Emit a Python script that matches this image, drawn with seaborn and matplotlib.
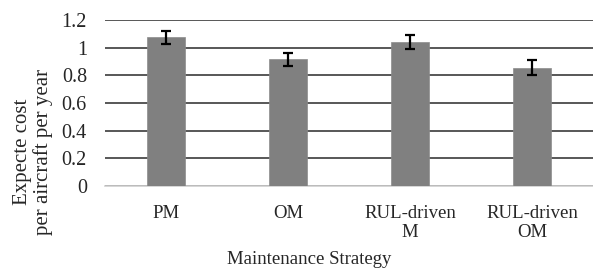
import matplotlib
matplotlib.use("Agg")
import matplotlib.pyplot as plt
import seaborn as sns
import pandas as pd

categories = ["PM", "OM", "RUL-driven\nM", "RUL-driven\nOM"]
values = [1.075, 0.916, 1.040, 0.856]
errors = [0.046, 0.048, 0.052, 0.054]
yticks = [0, 0.2, 0.4, 0.6, 0.8, 1, 1.2]
ytick_labels = ["0", "0.2", "0.4", "0.6", "0.8", "1", "1.2"]

sns.set_style("white")
plt.rcParams['font.family'] = ['Liberation Serif', 'DejaVu Serif']

W, H = 593, 271
fig = plt.figure(figsize=(W / 100, H / 100), dpi=100)
ax = fig.add_axes([105 / W, 1 - 186 / H, 488 / W, 166 / H])

df = pd.DataFrame({"cat": categories, "val": values})
sns.barplot(data=df, x="cat", y="val", color="#808080", saturation=1,
            width=0.31, ax=ax, zorder=3, edgecolor="#8c8c8c", linewidth=0.5)
ax.errorbar(range(len(categories)), values, yerr=errors, fmt="none",
            ecolor="black", elinewidth=1.6, capsize=3.5, capthick=1.6, zorder=4)

ax.set_ylim(0, 1.2)
ax.set_xlim(-0.5, len(categories) - 0.5)
ax.set_yticks(yticks)
ax.set_yticklabels(ytick_labels)
ax.yaxis.grid(True, color="#2a2a2a", linewidth=1.1)
ax.set_axisbelow(True)
for s in ["top", "right", "left"]:
    ax.spines[s].set_visible(False)
ax.spines["bottom"].set_color("#d0d0d0")
ax.spines["bottom"].set_linewidth(1.2)
ax.tick_params(axis="y", length=0, pad=13, labelsize=14.5)
ax.tick_params(axis="x", length=0, pad=14, labelsize=13.5)
for t in ax.get_xticklabels():
    t.set_linespacing(1.15)
ax.set_xlabel("")
ax.set_ylabel("")

fig.text(33 / W, 1 - 152 / H, "Expecte cost\nper aircraft per year", rotation=90,
         ha="center", va="center", fontsize=15, linespacing=1.1)
fig.text(309 / W, 1 - 260 / H, "Maintenance Strategy", ha="center", va="center",
         fontsize=13.5)

fig.savefig("out.png", dpi=100)
